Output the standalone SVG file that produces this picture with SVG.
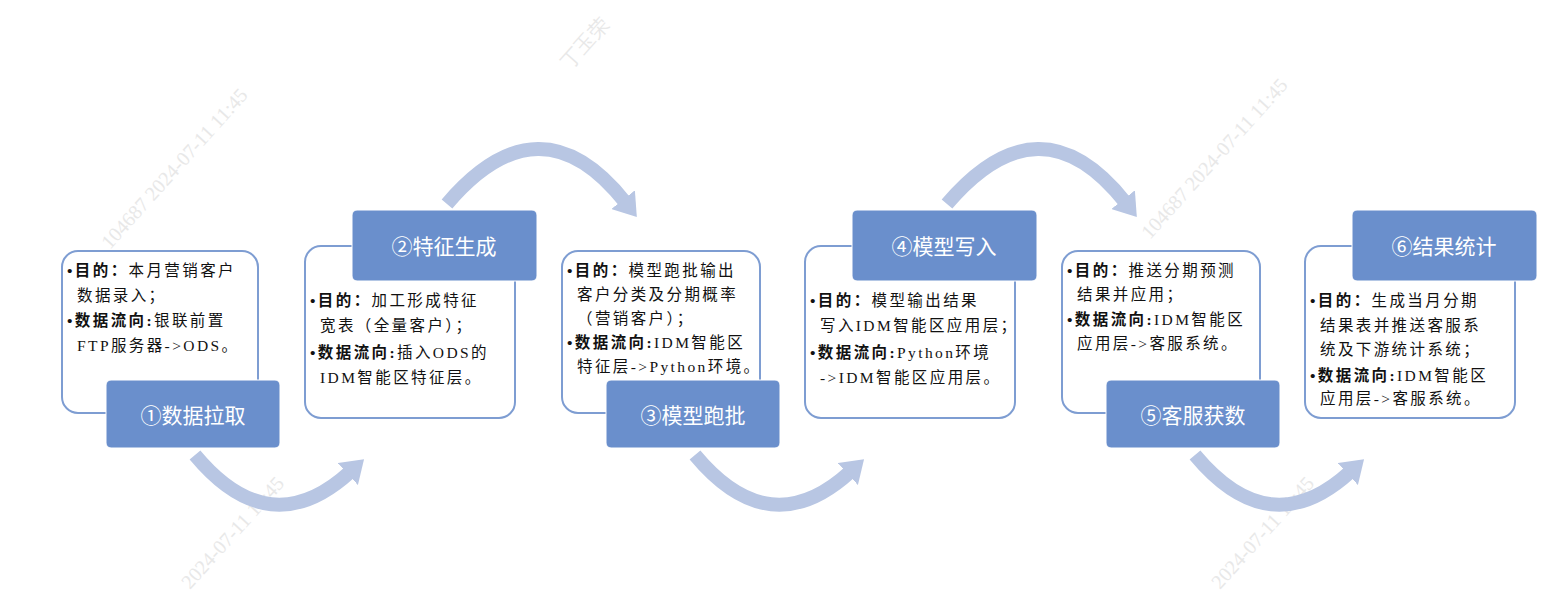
<svg xmlns="http://www.w3.org/2000/svg" width="1552" height="602" viewBox="0 0 1552 602">
<style>
.ol{fill:#fff;stroke:#7e9dd2;stroke-width:2}
.lb{fill:#6a8fcc;stroke:#fff;stroke-width:1}
.lt{fill:#fff;font-family:"Noto Sans CJK SC",sans-serif;font-size:21px;text-anchor:middle;dominant-baseline:central}
.tx{fill:#111;font-family:"Liberation Serif","Noto Sans CJK SC",serif;font-size:15.5px;letter-spacing:2.4px}
.b{font-weight:bold}
.arc{fill:none;stroke:#b8c6e3;stroke-width:14}
.wm{fill:#e8e8e8;font-family:"Liberation Serif",serif;font-size:20px}
</style>
<defs>
<marker id="ah" markerUnits="userSpaceOnUse" markerWidth="24" markerHeight="30" refX="3" refY="15" orient="auto"><path d="M0,0 L22,15 L0,30 Z" fill="#b8c6e3"/></marker>
</defs>
<g id="watermark">
<text class="wm" transform="translate(110,250) rotate(-48)">104687  2024-07-11  11:45</text>
<text class="wm" transform="translate(570,70) rotate(-48)">丁玉荣</text>
<text class="wm" transform="translate(1150,240) rotate(-48)">104687  2024-07-11  11:45</text>
<text class="wm" transform="translate(190,590) rotate(-48)">2024-07-11  11:45</text>
<text class="wm" transform="translate(1220,590) rotate(-48)">2024-07-11  11:45</text>
</g>
<g id="connectors">
<path class="arc" d="M447,204 Q540,95 625,202" marker-end="url(#ah)"/>
<path class="arc" d="M947,204 Q1040,95 1125,202" marker-end="url(#ah)"/>
<path class="arc" d="M195,455 Q270,545 350,472" marker-end="url(#ah)"/>
<path class="arc" d="M695,455 Q770,545 850,472" marker-end="url(#ah)"/>
<path class="arc" d="M1195,455 Q1270,545 1350,472" marker-end="url(#ah)"/>
</g>
<g id="step1">
<rect class="ol" x="62" y="251" width="196" height="162" rx="16"/>
<text class="tx"><tspan x="67" y="276"><tspan class="b">•目的：</tspan>本月营销客户</tspan><tspan x="77" y="301">数据录入；</tspan><tspan x="67" y="326"><tspan class="b">•数据流向:</tspan>银联前置</tspan><tspan x="77" y="351">FTP服务器-&gt;ODS。</tspan></text>
<rect class="lb" x="106" y="380" width="174" height="68" rx="5"/>
<text class="lt" x="193" y="414">①数据拉取</text>
</g>
<g id="step2">
<rect class="ol" x="305" y="246" width="210" height="172" rx="16"/>
<text class="tx"><tspan x="310" y="306"><tspan class="b">•目的：</tspan>加工形成特征</tspan><tspan x="320" y="331">宽表（全量客户）；</tspan><tspan x="310" y="358"><tspan class="b">•数据流向:</tspan>插入ODS的</tspan><tspan x="320" y="383">IDM智能区特征层。</tspan></text>
<rect class="lb" x="352" y="210" width="185" height="71" rx="5"/>
<text class="lt" x="444" y="245">②特征生成</text>
</g>
<g id="step3">
<rect class="ol" x="562" y="251" width="198" height="162" rx="16"/>
<text class="tx"><tspan x="567" y="276"><tspan class="b">•目的：</tspan>模型跑批输出</tspan><tspan x="577" y="300">客户分类及分期概率</tspan><tspan x="577" y="324">（营销客户）；</tspan><tspan x="567" y="348"><tspan class="b">•数据流向:</tspan>IDM智能区</tspan><tspan x="577" y="372">特征层-&gt;Python环境。</tspan></text>
<rect class="lb" x="606" y="380" width="174" height="68" rx="5"/>
<text class="lt" x="693" y="414">③模型跑批</text>
</g>
<g id="step4">
<rect class="ol" x="805" y="246" width="210" height="172" rx="16"/>
<text class="tx"><tspan x="810" y="306"><tspan class="b">•目的：</tspan>模型输出结果</tspan><tspan x="820" y="331">写入IDM智能区应用层；</tspan><tspan x="810" y="358"><tspan class="b">•数据流向:</tspan>Python环境</tspan><tspan x="820" y="383">-&gt;IDM智能区应用层。</tspan></text>
<rect class="lb" x="852" y="210" width="185" height="71" rx="5"/>
<text class="lt" x="944" y="245">④模型写入</text>
</g>
<g id="step5">
<rect class="ol" x="1062" y="251" width="198" height="162" rx="16"/>
<text class="tx"><tspan x="1067" y="276"><tspan class="b">•目的：</tspan>推送分期预测</tspan><tspan x="1077" y="300">结果并应用；</tspan><tspan x="1067" y="325"><tspan class="b">•数据流向:</tspan>IDM智能区</tspan><tspan x="1077" y="349">应用层-&gt;客服系统。</tspan></text>
<rect class="lb" x="1106" y="380" width="174" height="68" rx="5"/>
<text class="lt" x="1193" y="414">⑤客服获数</text>
</g>
<g id="step6">
<rect class="ol" x="1305" y="246" width="210" height="172" rx="16"/>
<text class="tx"><tspan x="1310" y="306"><tspan class="b">•目的：</tspan>生成当月分期</tspan><tspan x="1320" y="331">结果表并推送客服系</tspan><tspan x="1320" y="355">统及下游统计系统；</tspan><tspan x="1310" y="381"><tspan class="b">•数据流向:</tspan>IDM智能区</tspan><tspan x="1320" y="404">应用层-&gt;客服系统。</tspan></text>
<rect class="lb" x="1352" y="210" width="185" height="71" rx="5"/>
<text class="lt" x="1444" y="245">⑥结果统计</text>
</g>
</svg>
